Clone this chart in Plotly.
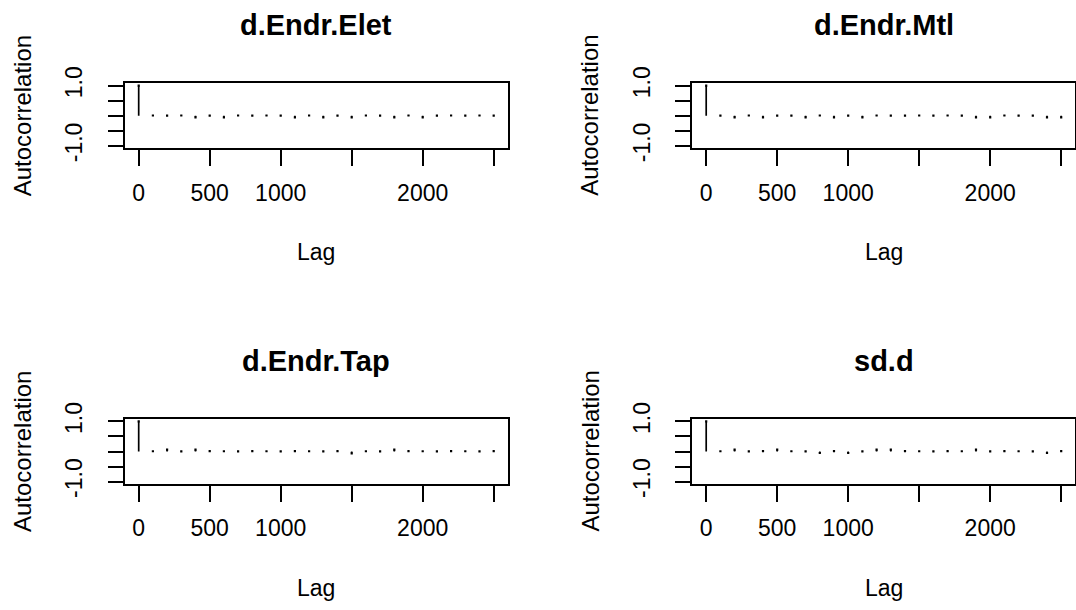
import plotly.graph_objects as go

W, H = 1076, 610

lags = [0, 100, 200, 300, 400, 500, 600, 700, 800, 900, 1000, 1100, 1200, 1300,
        1400, 1500, 1600, 1700, 1800, 1900, 2000, 2100, 2200, 2300, 2400, 2500]

titles = ["d.Endr.Elet", "d.Endr.Mtl", "d.Endr.Tap", "sd.d"]

acf_elet = [1.0, 0.01, 0.005, 0.01, -0.05, 0.008, -0.05, 0.01, 0.006, 0.01, 0.008,
            -0.05, 0.01, -0.05, 0.006, -0.05, 0.01, 0.008, -0.05, 0.01, -0.05,
            0.006, 0.01, 0.008, 0.01, 0.006]
acf_mtl = [1.0, 0.008, -0.05, 0.01, -0.05, 0.008, 0.006, -0.05, 0.01, -0.05, 0.006,
           -0.05, 0.01, 0.006, 0.008, 0.01, 0.006, 0.01, 0.008, -0.05, -0.05,
           0.01, 0.006, 0.008, -0.05, -0.05]
acf_tap = [1.0, 0.008, 0.06, 0.006, 0.06, 0.01, 0.008, 0.006, 0.01, 0.008, 0.006,
           0.01, 0.008, 0.006, 0.01, -0.06, 0.008, 0.006, 0.06, 0.01, 0.008,
           0.006, 0.01, 0.008, 0.006, 0.01]
acf_sdd = [1.0, 0.008, 0.06, 0.006, 0.01, 0.06, 0.008, 0.006, -0.05, 0.01, -0.05,
           0.006, 0.06, 0.06, 0.01, 0.008, 0.006, 0.01, 0.008, 0.06, 0.006,
           0.01, 0.008, 0.006, -0.05, 0.01]
series = [acf_elet, acf_mtl, acf_tap, acf_sdd]

x_tickvals = [0, 500, 1000, 1500, 2000, 2500]
x_ticktext = ["0", "500", "1000", "", "2000", ""]
y_tickvals = [-1.0, -0.5, 0.0, 0.5, 1.0]
y_ticktext = ["-1.0", "", "", "", "1.0"]

# panel boxes in pixels: (left, right, top, bottom)
boxes = [(124.5, 507.9, 83.3, 148.3), (692.0, 1075.4, 83.3, 148.3),
         (124.5, 507.9, 419.0, 484.0), (692.0, 1075.4, 419.0, 484.0)]

FONT = "Liberation Sans, Arial, sans-serif"

def px_x(v):
    return v / W

def px_y(v):
    return 1 - v / H

fig = go.Figure()
annotations = []
layout = dict(width=W, height=H, autosize=False,
              margin=dict(l=0, r=0, t=0, b=0, pad=0, autoexpand=False),
              paper_bgcolor="white", plot_bgcolor="white",
              showlegend=False, font=dict(family=FONT, color="black"))

for i, (vals, title, box) in enumerate(zip(series, titles, boxes)):
    n = "" if i == 0 else str(i + 1)
    xa, ya = "x" + n, "y" + n
    left, right, top, bottom = box
    xs, ys = [], []
    for lg, v in zip(lags, vals):
        xs += [lg, lg, None]
        ys += [0, v, None]
    fig.add_trace(go.Scatter(x=xs, y=ys, mode="lines",
                             line=dict(color="black", width=1.7),
                             xaxis=xa, yaxis=ya, hoverinfo="skip"))
    fig.add_trace(go.Scatter(x=lags, y=vals, mode="markers",
                             marker=dict(color="black", size=2.2, symbol="square",
                                         line=dict(width=0)),
                             xaxis=xa, yaxis=ya, hoverinfo="skip"))
    layout["xaxis" + n] = dict(
        domain=[px_x(left), px_x(right)], anchor=ya, range=[-100, 2600],
        automargin=False,
        tickmode="array", tickvals=x_tickvals, ticktext=x_ticktext,
        ticks="outside", ticklen=16, tickwidth=1.7, tickcolor="black",
        showline=True, linecolor="black", linewidth=1.7, mirror=True,
        showgrid=False, zeroline=False,
        tickfont=dict(size=23, family=FONT, color="black"),
        ticklabelstandoff=7)
    layout["yaxis" + n] = dict(
        domain=[px_y(bottom), px_y(top)], anchor=xa, range=[-1.08, 1.08],
        automargin=False,
        tickmode="array", tickvals=y_tickvals, ticktext=y_ticktext,
        ticks="outside", ticklen=15, tickwidth=1.7, tickcolor="black",
        tickangle=-90,
        showline=True, linecolor="black", linewidth=1.7, mirror=True,
        showgrid=False, zeroline=False,
        tickfont=dict(size=23, family=FONT, color="black"),
        ticklabelstandoff=16)
    cx = (left + right) / 2
    cy = (top + bottom) / 2
    annotations.append(dict(text="<b>" + title + "</b>", x=px_x(cx), y=px_y(top - 58),
                            xref="paper", yref="paper", xanchor="center", yanchor="middle",
                            showarrow=False, font=dict(size=29, family=FONT, color="black")))
    annotations.append(dict(text="Lag", x=px_x(cx), y=px_y(bottom + 104),
                            xref="paper", yref="paper", xanchor="center", yanchor="middle",
                            showarrow=False, font=dict(size=23, family=FONT, color="black")))
    annotations.append(dict(text="Autocorrelation", x=px_x(left - 102), y=px_y(cy),
                            xref="paper", yref="paper", xanchor="center", yanchor="middle",
                            textangle=-90,
                            showarrow=False, font=dict(size=24, family=FONT, color="black")))

layout["annotations"] = annotations
fig.update_layout(**layout)
fig.write_html("out.html", config={"displayModeBar": False},
               post_script="document.body.style.margin='0';document.body.style.padding='0';")
